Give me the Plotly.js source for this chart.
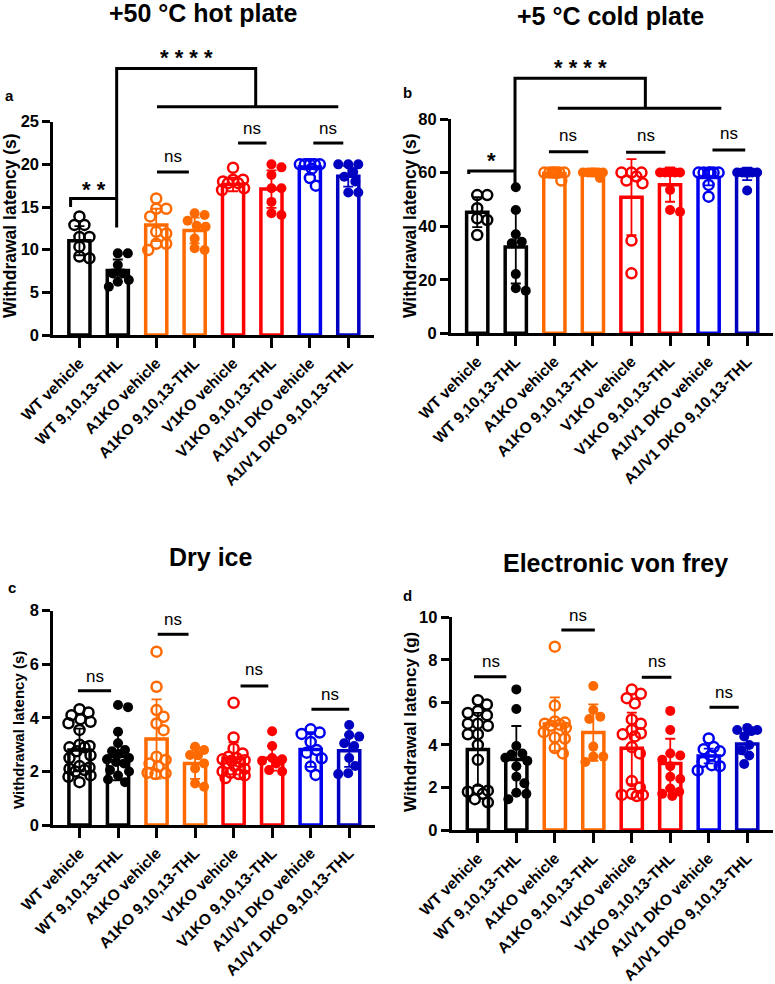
<!DOCTYPE html>
<html><head><meta charset="utf-8">
<script src="https://cdn.plot.ly/plotly-3.0.1.min.js"></script>
<style>html,body{margin:0;padding:0;background:#fff}</style>
</head><body><div id="chart" style="width:775px;height:984px"></div>
<script>
// ---------- DATA ----------
const groups = ["WT vehicle","WT 9,10,13-THL","A1KO vehicle","A1KO 9,10,13-THL","V1KO vehicle","V1KO 9,10,13-THL","A1/V1 DKO vehicle","A1/V1 DKO 9,10,13-THL"];
const groupColors = ["#000000","#000000","#FF6A00","#FF6A00","#FF0000","#FF0000","#0000F0","#0000C0"];
const openMarker = [true,false,true,false,true,false,true,false];

// a: +50 °C hot plate (s)
const hotMeans = [11.05, 7.55, 12.9, 12.25, 17.65, 17.1, 19.7, 18.6];
const hotSD    = [1.7, 1.3, 1.9, 1.5, 0.8, 2.2, 0.9, 1.2];
const hotPoints = [
  [13.9, 12.9, 12.9, 11.5, 11.5, 10.35, 9.2, 9.0],
  [9.57, 9.57, 8.2, 7.2, 7.2, 6.45, 6.25, 5.66],
  [16.0, 14.8, 14.8, 13.9, 12.1, 11.9, 10.7, 10.7, 9.96],
  [14.26, 14.06, 13.4, 12.8, 12.7, 11.3, 10.16, 9.96],
  [19.6, 18.2, 18.2, 18.0, 17.8, 17.8, 17.2, 17.0],
  [20.0, 19.65, 18.75, 17.2, 17.2, 15.6, 14.26, 14.06],
  [20.0, 20.0, 20.0, 20.0, 20.0, 19.5, 18.4, 17.5],
  [20.0, 20.0, 20.0, 19.1, 18.55, 18.0, 16.7, 16.7]
];

// b: +5 °C cold plate (s)
const coldMeans = [45.2, 32.2, 59.6, 59.7, 50.8, 55.5, 58.2, 59.5];
const coldSD    = [5.6, 13.6, 1.2, 1.0, 14.2, 6.4, 3.0, 2.3];
const coldPoints = [
  [51.6, 51.6, 46.7, 42.9, 42.3, 36.7],
  [54.5, 46.0, 37.0, 34.2, 33.6, 22.1, 16.8, 15.9],
  [60, 60, 60, 60, 60, 60, 60, 57],
  [60, 60, 60, 60, 60, 60, 60, 58],
  [60, 60, 60, 58.5, 57, 56, 34.6, 22.4],
  [60, 60, 60, 60, 60, 53.5, 46, 45.4],
  [60, 60, 60, 60, 60, 60, 55.4, 51],
  [60, 60, 60, 60, 60, 60, 60, 53.3]
];

// c: Dry ice (s)
const dryMeans = [2.8, 2.57, 3.21, 2.3, 2.49, 2.49, 2.82, 2.77];
const drySD    = [0.8, 0.9, 1.48, 0.58, 0.6, 0.46, 0.65, 0.6];
const dryPoints = [
  [4.32, 4.2, 4.1, 3.95, 3.85, 3.8, 3.55, 3.0, 2.95, 2.9, 2.9, 2.75, 2.6, 2.5, 2.2, 2.15, 2.1, 2.05, 2.0, 1.85, 1.8, 1.6],
  [4.48, 4.4, 3.48, 3.05, 2.8, 2.75, 2.65, 2.5, 2.45, 2.35, 2.3, 2.05, 2.0, 1.85, 1.7, 1.6],
  [6.47, 5.16, 4.29, 4.04, 3.79, 3.54, 2.55, 2.43, 2.3, 2.18, 1.95, 1.93, 1.9],
  [2.92, 2.8, 2.61, 2.6, 2.3, 2.11, 1.55, 1.43],
  [4.56, 3.27, 2.86, 2.67, 2.55, 2.5, 2.45, 2.42, 2.4, 2.35, 2.3, 2.2, 2.1, 2.0, 1.95, 1.9, 1.85, 1.75],
  [3.5, 2.95, 2.5, 2.45, 2.4, 2.3, 2.05, 2.0],
  [3.57, 3.45, 3.4, 3.1, 2.8, 2.7, 2.49, 2.18, 1.87],
  [3.73, 3.36, 3.3, 3.05, 2.95, 2.5, 2.2, 1.93, 1.9]
];

// d: Electronic von frey (g)
const vfMeans = [3.79, 3.32, 4.98, 4.58, 3.84, 3.13, 3.48, 4.04];
const vfSD    = [1.72, 1.57, 1.26, 1.33, 1.68, 1.16, 0.35, 0.5];
const vfPoints = [
  [6.1, 5.9, 5.6, 5.5, 5.4, 5.0, 5.0, 4.9, 4.5, 4.5, 4.0, 3.3, 1.9, 1.85, 1.8, 1.7, 1.45, 1.3],
  [6.61, 5.69, 3.95, 3.6, 3.55, 3.4, 3.25, 3.0, 2.5, 2.2, 1.75, 1.7, 1.45],
  [8.62, 5.85, 5.1, 5.05, 5.0, 4.95, 4.9, 4.8, 4.6, 4.35, 4.3, 3.85, 3.6],
  [6.77, 5.64, 5.33, 5.22, 3.92, 3.45, 3.45, 3.2],
  [6.6, 6.4, 6.2, 5.95, 5.2, 5.0, 4.7, 4.55, 4.5, 4.4, 3.9, 3.6, 2.3, 2.0, 1.7, 1.65, 1.65, 1.6],
  [5.6, 4.7, 3.6, 3.5, 3.3, 3.0, 2.5, 2.4, 1.95, 1.8, 1.7, 1.6],
  [4.3, 3.9, 3.8, 3.7, 3.5, 3.2, 3.05, 3.0, 2.8],
  [4.8, 4.7, 4.7, 4.65, 4.4, 4.0, 3.75, 3.5, 3.1]
];

// ---------- LAYOUT / DRAWING ----------
const W = 775, H = 984;
const FONT = "Liberation Sans, Arial, Helvetica, sans-serif";
const XR = [-0.68, 7.67];

const panels = [
  {ax:'', x0:53.3, x1:374, yTop:121.7, yBot:335, ymax:25, dtick:5, means:hotMeans, sd:hotSD, pts:hotPoints,
   title:'+50 °C hot plate', tx:203, ty:13, letter:'a', lx:9, ly:95, ytitle:'Withdrawal latency (s)', ytx:10, yty:226, ytsize:17.5,
   paths:[[[-0.23,15.0],[-0.23,16.0],[0.97,16.0]], [[0.97,12.6],[0.97,31.25],[4.59,31.25],[4.59,26.75]], [[2.02,26.75],[6.74,26.75]],
          [[2.02,19.1],[2.85,19.1]], [[4.13,22.5],[4.87,22.5]], [[6.09,22.5],[6.87,22.5]]],
   texts:[['* * * *',2.78,32.5,22],['* *',0.39,17.1,22],['ns',2.43,20.9,17],['ns',4.5,24.2,17],['ns',6.48,24.2,17]]},
  {ax:'2', x0:451, x1:773, yTop:119, yBot:333.3, ymax:80, dtick:20, means:coldMeans, sd:coldSD, pts:coldPoints,
   title:'+5 °C cold plate', tx:610, ty:16, letter:'b', lx:407, ly:92, ytitle:'Withdrawal latency (s)', ytx:410, yty:226, ytsize:17.5,
   paths:[[[-0.22,59.5],[-0.22,60.6],[0.98,60.6]], [[0.98,56],[0.98,95.2],[4.36,95.2],[4.36,84.0]], [[2.09,84.0],[6.33,84.0]],
          [[1.86,67.8],[2.88,67.8]], [[3.86,67.6],[4.88,67.6]], [[6.1,68.4],[6.95,68.4]]],
   texts:[['* * * *',2.67,99.2,22],['*',0.37,64.4,22],['ns',2.36,74.0,17],['ns',4.37,73.7,17],['ns',6.52,74.6,17]]},
  {ax:'3', x0:53.3, x1:375, yTop:610.7, yBot:825, ymax:8, dtick:2, means:dryMeans, sd:drySD, pts:dryPoints,
   title:'Dry ice', tx:210, ty:557, letter:'c', lx:12, ly:587, ytitle:'Withdrawal latency (s)', ytx:18, yty:730, ytsize:15,
   paths:[[[-0.04,5.01],[0.82,5.01]], [[2.03,7.12],[2.83,7.12]], [[4.18,5.19],[4.9,5.19]], [[6.02,4.32],[7.0,4.32]]],
   texts:[['ns',0.39,5.56,17],['ns',2.42,7.68,17],['ns',4.52,5.79,17],['ns',6.51,4.89,17]]},
  {ax:'4', x0:451.7, x1:773, yTop:617.3, yBot:830, ymax:10, dtick:2, means:vfMeans, sd:vfSD, pts:vfPoints,
   title:'Electronic von frey', tx:615, ty:563, letter:'d', lx:407, ly:595, ytitle:'Withdrawal latency (g)', ytx:410, yty:722, ytsize:17,
   paths:[[[-0.1,7.21],[0.74,7.21]], [[2.17,9.4],[3.04,9.4]], [[4.26,7.18],[5.03,7.18]], [[6.02,5.77],[6.78,5.77]]],
   texts:[['ns',0.33,7.9,17],['ns',2.61,10.1,17],['ns',4.65,7.9,17],['ns',6.39,6.46,17]]}
];

function toPaper(p, idx, val){
  const px = p.x0 + (idx - XR[0])/(XR[1]-XR[0])*(p.x1-p.x0);
  const py = p.yBot - val/p.ymax*(p.yBot-p.yTop);
  return [px/W, 1 - py/H];
}

// deterministic beeswarm offsets (in category units)
const MSIZE = 10;
function swarm(p, vals){
  const pxPerUnit = (p.yBot-p.yTop)/p.ymax;
  const pxPerIdx = (p.x1-p.x0)/(XR[1]-XR[0]);
  const D = MSIZE, maxOff = 11;
  const cands = [];
  for (let o=0;o<=maxOff;o+=1){ cands.push(o); if(o) cands.push(-o); }
  const placed = []; const offs = new Array(vals.length);
  const order = vals.map((v,i)=>i).sort((a,b)=>vals[b]-vals[a]);
  order.forEach(i=>{
    const y = vals[i]*pxPerUnit;
    let best = 0, bestD = -1;
    for (const c of cands){
      let md = Infinity;
      for (const q of placed){ const d = Math.hypot(c-q[0], y-q[1]); if (d<md) md=d; }
      if (md >= D*0.95){ best=c; bestD=Infinity; break; }
      if (md > bestD){ bestD=md; best=c; }
    }
    placed.push([best,y]); offs[i] = best/pxPerIdx;
  });
  return offs;
}

const traces = [];
const layout = {
  width:W, height:H, margin:{l:0,r:0,t:0,b:0}, paper_bgcolor:'#fff', plot_bgcolor:'rgba(0,0,0,0)',
  showlegend:false, hovermode:false, font:{family:FONT, color:'#000'},
  shapes:[], annotations:[]
};
const idxs = groups.map((g,i)=>i);

panels.forEach(p=>{
  const xa = 'x'+p.ax, ya = 'y'+p.ax;
  const tv = []; for (let v=0; v<=p.ymax+1e-9; v+=p.dtick) tv.push(v);
  layout['xaxis'+p.ax] = {domain:[p.x0/W, p.x1/W], anchor:ya, range:XR, showgrid:false, zeroline:false,
    showline:true, linewidth:3, linecolor:'#000', ticks:'outside', ticklen:10, tickwidth:3, tickcolor:'#000',
    tickvals:idxs, ticktext:groups, tickangle:-45, tickfont:{family:FONT, size:15.5, weight:'bold', color:'#000'}, fixedrange:true};
  layout['yaxis'+p.ax] = {domain:[1-p.yBot/H, 1-p.yTop/H], anchor:xa, range:[0,p.ymax], showgrid:false, zeroline:false,
    showline:true, linewidth:3, linecolor:'#000', ticks:'outside', ticklen:8, tickwidth:3, tickcolor:'#000',
    tickvals:tv, tickfont:{family:FONT, size:16.5, weight:'bold', color:'#000'}, fixedrange:true};

  traces.push({type:'bar', x:idxs, y:p.means, width:0.55, xaxis:xa, yaxis:ya,
    marker:{color:'#ffffff', line:{color:groupColors, width:3.5}}});
  p.pts.forEach((vals,g)=>{
    const offs = swarm(p, vals);
    traces.push({type:'scatter', mode:'markers', xaxis:xa, yaxis:ya, cliponaxis:false,
      x: vals.map((v,k)=>g+offs[k]), y: vals,
      marker:{symbol: openMarker[g]?'circle-open':'circle', size:MSIZE, color:groupColors[g],
              line:{width: openMarker[g]?2.5:0, color:groupColors[g]}}});
  });
  p.means.forEach((m,g)=>{
    traces.push({type:'scatter', mode:'markers', xaxis:xa, yaxis:ya, x:[g], y:[m], cliponaxis:false,
      marker:{size:1, opacity:0},
      error_y:{type:'data', array:[p.sd[g]], visible:true, color:groupColors[g], thickness:1.8, width:5}});
  });

  p.paths.forEach(seg=>{
    const d = seg.map((pt,k)=>{const q=toPaper(p,pt[0],pt[1]); return (k?'L':'M')+q[0].toFixed(5)+','+q[1].toFixed(5);}).join(' ');
    layout.shapes.push({type:'path', xref:'paper', yref:'paper', path:d, line:{color:'#000', width:3}});
  });
  p.texts.forEach(t=>{
    const q = toPaper(p,t[1],t[2]);
    layout.annotations.push({xref:'paper', yref:'paper', x:q[0], y:q[1], text:t[0], showarrow:false,
      xanchor:'center', yanchor:'middle', font:{family:FONT, size:t[3], color:'#000', weight: t[0]==='ns'?'normal':'bold'}});
  });
  layout.annotations.push({xref:'paper', yref:'paper', x:p.tx/W, y:1-p.ty/H, text:p.title, showarrow:false,
    xanchor:'center', yanchor:'middle', font:{family:FONT, size:25, weight:'bold', color:'#000'}});
  layout.annotations.push({xref:'paper', yref:'paper', x:p.lx/W, y:1-p.ly/H, text:p.letter, showarrow:false,
    xanchor:'center', yanchor:'middle', font:{family:FONT, size:15, weight:'bold', color:'#000'}});
  layout.annotations.push({xref:'paper', yref:'paper', x:p.ytx/W, y:1-p.yty/H, text:p.ytitle, showarrow:false, textangle:-90,
    xanchor:'center', yanchor:'middle', font:{family:FONT, size:p.ytsize, weight:'bold', color:'#000'}});
});

Plotly.newPlot('chart', traces, layout, {staticPlot:true, displayModeBar:false});
</script></body></html>
